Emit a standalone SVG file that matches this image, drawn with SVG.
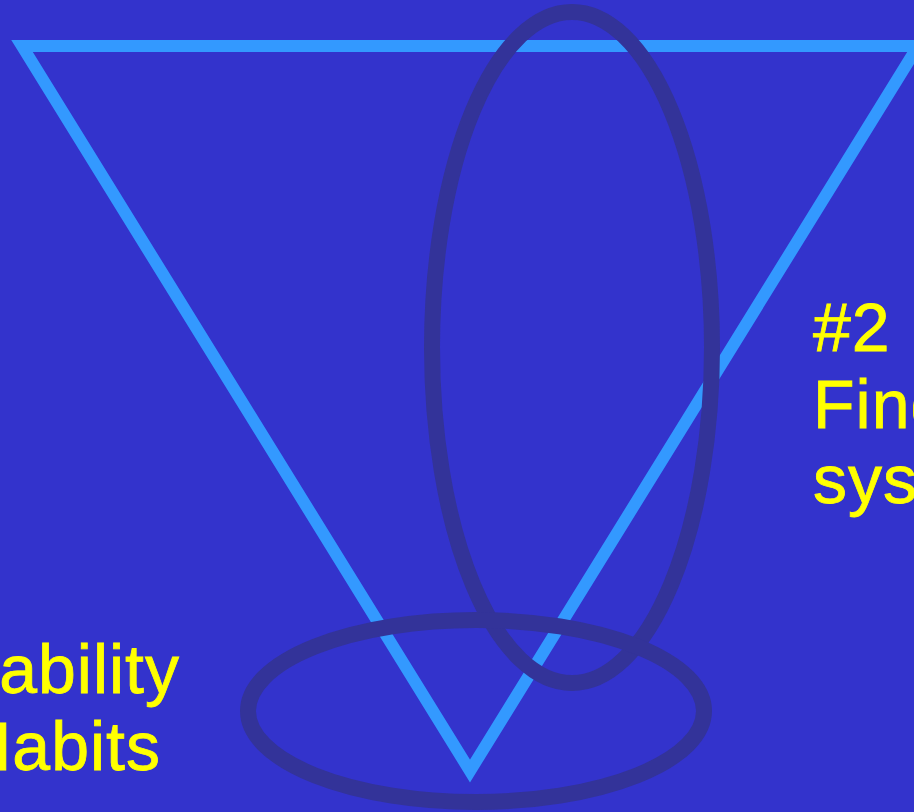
<svg xmlns="http://www.w3.org/2000/svg" width="914" height="812" viewBox="0 0 914 812">
<style>
.lbl{font-family:"Comic Sans MS","Liberation Sans",sans-serif;font-size:68px;fill:#FFFF00;stroke:#FFFF00;stroke-width:0.8;letter-spacing:1px}
.ring{fill:none;stroke:#333399;stroke-width:16}
</style>
<rect width="914" height="812" fill="#3333CC"/>
<g id="triangle">
<polygon points="22,46 918,46 470,771" fill="none" stroke="#3399FF" stroke-width="12" stroke-linejoin="miter"/>
</g>
<g id="ellipse-vertical">
<ellipse class="ring" cx="572" cy="347.5" rx="140" ry="335.5"/>
</g>
<g id="ellipse-horizontal">
<ellipse class="ring" cx="476" cy="711" rx="228" ry="91"/>
</g>
<g id="label-right">
<text class="lbl" x="813" y="351">#2</text>
<text class="lbl" x="813" y="428">Find</text>
<text class="lbl" x="813" y="503">syst</text>
</g>
<g id="label-left">
<text class="lbl" x="180" y="693" text-anchor="end">ability</text>
<text class="lbl" x="161" y="770" text-anchor="end">Habits</text>
</g>
</svg>
